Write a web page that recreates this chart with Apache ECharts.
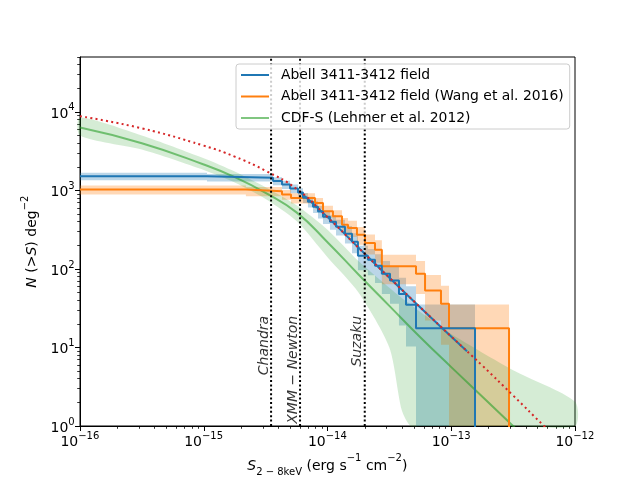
<!DOCTYPE html>
<html lang="en">
<head>
<meta charset="UTF-8">
<title>logN-logS</title>
<script src="https://cdn.jsdelivr.net/npm/echarts@6/dist/echarts.min.js"></script>
<style>
    html, body {margin: 0; background: #fff;}
    #main {width: 640px; height: 480px;}
</style>
</head>
<body>
<div id="main"></div>
<script type="text/javascript">
// ---- data (flux in erg s^-1 cm^-2, N in deg^-2) ----
var xDecades = [-16, -15, -14, -13, -12];
var yDecades = [0, 1, 2, 3, 4];
var minorMults = [2, 3, 4, 5, 6, 7, 8, 9];

// Abell 3411-3412 field: step edges and N(>S) on each step
var blueEdges = [1e-16, 1.062e-15, 3.63e-15, 4.29e-15, 4.98e-15, 5.78e-15, 6.34e-15, 6.95e-15, 7.64e-15, 8.38e-15,
    9.20e-15, 1.047e-14, 1.172e-14, 1.384e-14, 1.578e-14, 1.762e-14, 2.12e-14, 2.42e-14, 2.75e-14, 3.20e-14,
    3.78e-14, 4.31e-14, 5.19e-14, 1.556e-13];
var blueN = [1514, 1455, 1315, 1186, 1054, 938, 809, 719, 621, 537, 463, 400, 345, 281, 222, 147, 131, 110, 87, 71, 48, 35, 17.6];
var blueHi = [1677, 1615, 1467, 1330, 1190, 1066, 928, 831, 726, 634, 553, 484, 423, 351, 285, 198, 179, 154, 126, 106, 77, 60, 35.2];
var blueLo = [1351, 1295, 1163, 1042, 918, 810, 690, 607, 516, 440, 373, 316, 267, 211, 159, 96, 83, 66, 48, 36, 19, 10.3, 0];

// Abell 3411-3412 field (Wang et al. 2016)
var orangeEdges = [1e-16, 2.19e-15, 4.29e-15, 5.07e-15, 7.93e-15, 9.20e-15, 1.107e-14, 1.31e-14, 1.465e-14, 1.73e-14,
    2.01e-14, 2.42e-14, 2.75e-14, 5.19e-14, 6.14e-14, 8.26e-14, 9.59e-14, 2.93e-13];
var orangeN = [1024, 974, 884, 802, 693, 541, 468, 366, 333, 273, 214, 176, 108, 87, 53, 36, 17.6];
var orangeHi = [1158, 1105, 1009, 921, 803, 639, 559, 446, 410, 342, 275, 232, 152, 126, 84, 61, 35.2];
var orangeLo = [890, 843, 759, 683, 583, 443, 377, 286, 256, 204, 153, 120, 64, 48, 22, 10.8, 0];

// CDF-S (Lehmer et al. 2012)
var cdfsS = [1e-16, 3.16e-16, 1e-15, 1.78e-15, 3.16e-15, 5.62e-15, 1e-14, 1.78e-14, 3.16e-14, 5.62e-14, 1e-13, 3.16e-13, 1e-12];
var cdfsN = [6310, 3981, 2138, 1479, 933, 525, 219, 85.1, 33.9, 13.5, 5.62, 1.0, 0.178];
var cdfsBandS = [1e-16, 3.16e-16, 1e-15, 1.78e-15, 3.16e-15, 5.62e-15, 1e-14, 1.78e-14, 3.16e-14, 3.98e-14, 4.68e-14,
    5.62e-14, 1e-13, 3.16e-13, 1e-12];
var cdfsUpper = [8511, 5012, 2570, 1738, 1096, 646, 316, 126, 57.5, 42.7, 35.5, 28.2, 14.8, 5.13, 2.04];
var cdfsLower = [5012, 3311, 1820, 1259, 776, 407, 141, 50.1, 10.0, 1.6, 0.5, 0.1, 0.01, 0.01, 0.01];

// model curve (red dotted) and fit to the Abell field (blue)
var modelS = [1e-16, 3.16e-16, 1e-15, 1.78e-15, 3.16e-15, 5.62e-15, 1e-14, 1.78e-14, 3.16e-14, 5.62e-14, 1e-13,
    1.78e-13, 3.16e-13, 5.62e-13, 1e-12];
var modelN = [8810, 6166, 3715, 2692, 1778, 1047, 457, 186, 77.6, 32.4, 13.8, 5.89, 2.45, 1.0, 0.417];
var fitS = [6e-15, 1e-14, 2e-14, 5e-14, 1.34e-13];
var fitN = [955, 457, 156, 38.6, 8.95];

// flux limits of the instruments
var instNames = ['Chandra', 'XMM \u2212 Newton', 'Suzaku'];
var instFlux = [3.5e-15, 6e-15, 2e-14];

var FONT = 'DejaVu Sans';
var X_MIN = -16, X_MAX = -12, Y_MIN = 0, Y_MAX = Math.log10(5e4);
var Y_FLOOR = -1;      // below the axis, used for the final drop of the steps
var LABEL_N = 26;      // height where the instrument labels end

function lg(v) { return Math.log10(v); }
function minus(n) { n = Math.round(n); return n < 0 ? '\u2212' + (-n) : String(n); }

function minorTicks(decades, top) {
    var out = [];
    decades.forEach(function (d) {
        minorMults.forEach(function (m) {
            var v = d + lg(m);
            if (v <= top + 1e-9) out.push(v);
        });
    });
    return out;
}

function stepPoints(edges, vals) {
    var pts = [];
    for (var i = 0; i < vals.length; i++) pts.push([lg(edges[i]), lg(vals[i])]);
    pts.push([lg(edges[edges.length - 1]), Y_FLOOR]);
    return pts;
}

function pairs(xs, ys) {
    return xs.map(function (x, i) { return [lg(x), lg(ys[i])]; });
}

function stepBand(edges, lo, hi, color) {
    return {
        type: 'custom',
        silent: true,
        data: hi.map(function (h, i) { return [lg(edges[i]), lg(h)]; }),
        encode: {x: 0, y: 1},
        renderItem: function (params, api) {
            if (params.dataIndex !== 0) return;
            var cs = params.coordSys;
            var floorY = cs.y + cs.height;
            var up = [], down = [];
            for (var i = 0; i < hi.length; i++) {
                var a = api.coord([lg(edges[i]), lg(hi[i])]);
                var b = api.coord([lg(edges[i + 1]), lg(hi[i])]);
                up.push(a, b);
                var yl = lo[i] > 0 ? api.coord([lg(edges[i]), lg(lo[i])])[1] : floorY;
                down.unshift([a[0], yl]);
                down.unshift([b[0], yl]);
            }
            var pts = echarts.graphic.clipPointsByRect(up.concat(down),
                {x: cs.x, y: cs.y, width: cs.width, height: cs.height});
            return {type: 'polygon', shape: {points: pts}, style: {fill: color}};
        }
    };
}

function curveBand(xs, lo, hi, color) {
    return {
        type: 'custom',
        silent: true,
        data: hi.map(function (h, i) { return [lg(xs[i]), lg(h)]; }),
        encode: {x: 0, y: 1},
        renderItem: function (params, api) {
            if (params.dataIndex !== 0) return;
            var cs = params.coordSys;
            var pts = [];
            for (var i = 0; i < xs.length; i++) pts.push(api.coord([lg(xs[i]), lg(hi[i])]));
            for (var j = xs.length - 1; j >= 0; j--) pts.push(api.coord([lg(xs[j]), lg(lo[j])]));
            pts = echarts.graphic.clipPointsByRect(pts, {x: cs.x, y: cs.y, width: cs.width, height: cs.height});
            return {type: 'polygon', shape: {points: pts, smooth: 0.25}, style: {fill: color}};
        }
    };
}

var tickRich = {
    b: {fontFamily: FONT, fontSize: 14, color: '#000', lineHeight: 14, verticalAlign: 'bottom'},
    s: {fontFamily: FONT, fontSize: 10, color: '#000', lineHeight: 13, verticalAlign: 'top'},
    pad: {lineHeight: 18, fontSize: 1}
};
function tickLabel(v) { return '{b|10}{s|' + minus(v) + '}{pad| }'; }

var nameRich = {
    n: {fontFamily: FONT, fontSize: 14, color: '#000', lineHeight: 14},
    i: {fontFamily: FONT, fontSize: 14, color: '#000', fontStyle: 'italic', lineHeight: 14},
    sup: {fontFamily: FONT, fontSize: 10, color: '#000', lineHeight: 14, verticalAlign: 'top'},
    sub: {fontFamily: FONT, fontSize: 10, color: '#000', lineHeight: 14, verticalAlign: 'bottom'},
    pad: {lineHeight: 24, fontSize: 1}
};

var C_BLUE = '#1f77b4', C_ORANGE = '#ff7f0e', C_GREEN = 'rgba(44,160,44,0.6)', C_RED = '#d62728';
var NAME_BLUE = 'Abell 3411-3412 field';
var NAME_ORANGE = 'Abell 3411-3412 field (Wang et al. 2016)';
var NAME_GREEN = 'CDF-S (Lehmer et al. 2012)';

function valueAxis(min, max, major, minor) {
    var common = {
        type: 'value', min: min, max: max, interval: 1,
        splitLine: {show: false},
        axisLine: {show: true, onZero: false, lineStyle: {color: '#000', width: 1}}
    };
    var main = Object.assign({}, common, {
        axisTick: {show: true, length: 5, customValues: major, lineStyle: {color: '#000', width: 1}},
        axisLabel: {customValues: major, formatter: tickLabel, rich: tickRich, margin: 5}
    });
    var sub = Object.assign({}, common, {
        axisLine: {show: false},
        axisTick: {show: true, length: 2.8, customValues: minor, lineStyle: {color: '#000', width: 0.8}},
        axisLabel: {show: false}
    });
    return [main, sub];
}

var xAxes = valueAxis(X_MIN, X_MAX, xDecades, minorTicks(xDecades.slice(0, 4), X_MAX));
xAxes[0].position = 'bottom';
xAxes[1].position = 'bottom';
xAxes[0].name = '{i|S}{sub|2 \u2212 8keV}{n| (erg s}{sup|\u22121}{n| cm}{sup|\u22122}{n|)}{pad| }';
xAxes[0].nameLocation = 'middle';
xAxes[0].nameGap = 26;
xAxes[0].nameTextStyle = {rich: nameRich};

var yAxes = valueAxis(Y_MIN, Y_MAX, yDecades, minorTicks(yDecades, Y_MAX));
yAxes[0].position = 'left';
yAxes[1].position = 'left';
yAxes[0].name = '{i|N}{n| (>}{i|S}{n|) deg}{sup|\u22122}{pad| }';
yAxes[0].nameLocation = 'middle';
yAxes[0].nameGap = 36;
yAxes[0].nameTextStyle = {rich: nameRich};

var series = [
    stepBand(blueEdges, blueLo, blueHi, 'rgba(31,119,180,0.3)'),
    stepBand(orangeEdges, orangeLo, orangeHi, 'rgba(255,127,14,0.3)'),
    curveBand(cdfsBandS, cdfsLower, cdfsUpper, 'rgba(44,160,44,0.2)'),
    {
        name: NAME_GREEN, type: 'line', data: pairs(cdfsS, cdfsN), smooth: true, symbol: 'none',
        lineStyle: {color: C_GREEN, width: 2}, itemStyle: {color: C_GREEN}, silent: true
    },
    {
        name: NAME_ORANGE, type: 'line', step: 'end', data: stepPoints(orangeEdges, orangeN), symbol: 'none',
        lineStyle: {color: C_ORANGE, width: 2}, itemStyle: {color: C_ORANGE}, silent: true
    },
    {
        name: NAME_BLUE, type: 'line', step: 'end', data: stepPoints(blueEdges, blueN), symbol: 'none',
        lineStyle: {color: C_BLUE, width: 2}, itemStyle: {color: C_BLUE}, silent: true
    },
    {
        name: 'fit', type: 'line', data: pairs(fitS, fitN), smooth: true, symbol: 'none',
        lineStyle: {color: C_BLUE, width: 2}, silent: true
    },
    {
        name: 'model', type: 'line', data: pairs(modelS, modelN), smooth: true, symbol: 'none',
        lineStyle: {color: C_RED, width: 2, type: [2, 3.3]}, silent: true
    }
];

instFlux.forEach(function (f, i) {
    series.push({
        name: instNames[i], type: 'line', symbol: 'none', silent: true,
        data: [[lg(f), Y_MIN], [lg(f), Y_MAX]],
        lineStyle: {color: '#000', width: 2, type: [2, 2.4]}
    });
});

series.push({
    type: 'scatter', symbolSize: 0, silent: true,
    data: instFlux.map(function (f, i) { return {name: instNames[i], value: [lg(f), lg(LABEL_N)]}; }),
    label: {
        show: true, formatter: '{b}', position: [0, 0], rotate: 90, align: 'right', verticalAlign: 'bottom',
        offset: [-1, 0], fontFamily: FONT, fontSize: 14, fontStyle: 'italic', color: '#000'
    }
});

var myChart = echarts.init(document.getElementById('main'), null, {renderer: 'canvas'});
myChart.setOption({
    animation: false,
    backgroundColor: '#fff',
    grid: {left: 80, right: 65, top: 57, bottom: 54, show: true, borderColor: '#000', borderWidth: 1,
        backgroundColor: 'transparent', outerBoundsMode: 'none', containLabel: false},
    legend: {
        data: [NAME_BLUE, NAME_ORANGE, NAME_GREEN],
        orient: 'vertical', left: 236, top: 64,
        itemWidth: 28, itemHeight: 12, itemGap: 7.5,
        padding: [4, 6, 4, 4],
        backgroundColor: 'rgba(255,255,255,0.8)', borderColor: '#cccccc', borderWidth: 1, borderRadius: 3,
        selectedMode: false,
        itemStyle: {opacity: 0},
        formatter: function (name) { return '{t|' + name + '}'; },
        textStyle: {rich: {t: {fontFamily: FONT, fontSize: 13.9, color: '#000', padding: [0, 0, 0, 7]}}}
    },
    xAxis: xAxes,
    yAxis: yAxes,
    series: series
});
</script>
</body>
</html>
